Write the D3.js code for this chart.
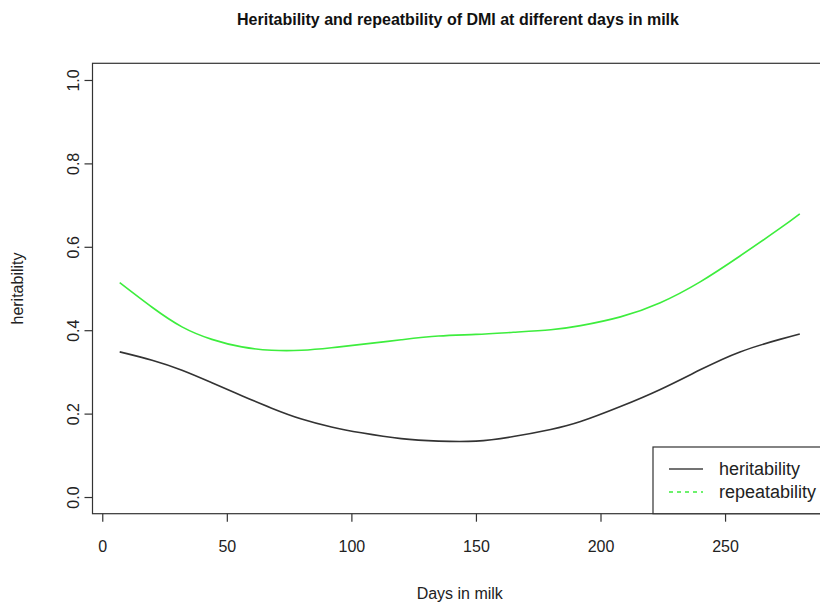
<!DOCTYPE html>
<html>
<head>
<meta charset="utf-8">
<script src="https://cdn.jsdelivr.net/npm/d3@7"></script>
<style>
  body { margin: 0; background: #fff; }
  svg { font-family: "Liberation Sans", Arial, sans-serif; }
</style>
</head>
<body>
<svg id="chart" width="820" height="603"></svg>
<script>
// data
const days          = [7, 20, 32, 44, 56, 68, 80, 92, 104, 120, 135, 150, 165, 180, 192, 208, 224, 240, 256, 272, 280];
const heritability  = [0.348, 0.328, 0.304, 0.274, 0.243, 0.213, 0.187, 0.168, 0.154, 0.140, 0.134, 0.134, 0.145, 0.162, 0.181, 0.217, 0.258, 0.305, 0.348, 0.378, 0.391];
const repeatability = [0.514, 0.455, 0.408, 0.378, 0.360, 0.352, 0.352, 0.358, 0.366, 0.377, 0.386, 0.390, 0.395, 0.401, 0.411, 0.432, 0.466, 0.516, 0.578, 0.644, 0.679];
const xTicks = [0, 50, 100, 150, 200, 250];
const yTicks = [0, 0.2, 0.4, 0.6, 0.8, 1.0];
const legendLabels = ["heritability", "repeatability"];

const svg = d3.select("#chart");

// plot region (R style, domain padded 4%)
const plotL = 92.5, plotT = 63.3, plotR = 827, plotB = 513.7;

const x = d3.scaleLinear().domain([-3.92, 290.92]).range([plotL, plotR]);
const y = d3.scaleLinear().domain([-0.04, 1.04]).range([plotB, plotT]);

const axisColor = "#333";
const green = "#3ded3d";

// title
svg.append("text")
  .attr("x", 458)
  .attr("y", 25)
  .attr("text-anchor", "middle")
  .style("font-weight", "bold")
  .style("font-size", "16px")
  .attr("fill", "#111")
  .text("Heritability and repeatbility of DMI at different days in milk");

// plot box
svg.append("rect")
  .attr("x", plotL).attr("y", plotT)
  .attr("width", plotR - plotL).attr("height", plotB - plotT)
  .attr("fill", "none").attr("stroke", axisColor).attr("stroke-width", 1.2);

// x axis
const xAxis = svg.append("g")
  .attr("transform", `translate(0,${plotB})`)
  .call(d3.axisBottom(x).tickValues(xTicks).tickSize(8).tickPadding(19).tickFormat(d3.format("d")));
xAxis.select(".domain").remove();
xAxis.selectAll("line").attr("stroke", axisColor).attr("stroke-width", 1.2);
xAxis.selectAll("text").style("font-size", "16px").attr("fill", "#222")
  .style("font-family", "Liberation Sans, Arial, sans-serif");

// y axis
const yAxis = svg.append("g")
  .attr("transform", `translate(${plotL},0)`)
  .call(d3.axisLeft(y).tickValues(yTicks).tickSize(8).tickFormat(d3.format(".1f")));
yAxis.select(".domain").remove();
yAxis.selectAll("line").attr("stroke", axisColor).attr("stroke-width", 1.2);
yAxis.selectAll(".tick text")
  .attr("x", null).attr("dy", null)
  .attr("text-anchor", "middle")
  .attr("transform", "translate(-14,0) rotate(-90)")
  .attr("y", 0)
  .style("font-size", "16px").attr("fill", "#222")
  .style("font-family", "Liberation Sans, Arial, sans-serif");

// axis titles
svg.append("text")
  .attr("x", (plotL + plotR) / 2)
  .attr("y", 599)
  .attr("text-anchor", "middle")
  .style("font-size", "16px")
  .attr("fill", "#222")
  .text("Days in milk");

svg.append("text")
  .attr("transform", `translate(23,${(plotT + plotB) / 2}) rotate(-90)`)
  .attr("text-anchor", "middle")
  .style("font-size", "16px")
  .attr("fill", "#222")
  .text("heritability");

// lines
const line = d3.line()
  .x(d => x(d[0]))
  .y(d => y(d[1]))
  .curve(d3.curveNatural);

svg.append("path")
  .datum(days.map((d, i) => [d, heritability[i]]))
  .attr("d", line)
  .attr("fill", "none")
  .attr("stroke", "#333")
  .attr("stroke-width", 1.6);

svg.append("path")
  .datum(days.map((d, i) => [d, repeatability[i]]))
  .attr("d", line)
  .attr("fill", "none")
  .attr("stroke", green)
  .attr("stroke-width", 1.6);

// legend
const legend = svg.append("g").attr("transform", "translate(653,447)");
legend.append("rect")
  .attr("x", 0).attr("y", 0)
  .attr("width", 200).attr("height", plotB - 447)
  .attr("fill", "#fff").attr("stroke", axisColor).attr("stroke-width", 1.2);

const legendColors = ["#444", green];
const legendDash = [null, "4,4"];
legendLabels.forEach((lab, i) => {
  legend.append("line")
    .attr("x1", 16).attr("x2", 50)
    .attr("y1", 22 + i * 23).attr("y2", 22 + i * 23)
    .attr("stroke", legendColors[i])
    .attr("stroke-width", 1.6)
    .attr("stroke-dasharray", legendDash[i]);
  legend.append("text")
    .attr("x", 66).attr("y", 22 + i * 23)
    .attr("dy", "0.35em")
    .style("font-size", "18px")
    .attr("fill", "#222")
    .text(lab);
});
</script>
</body>
</html>
